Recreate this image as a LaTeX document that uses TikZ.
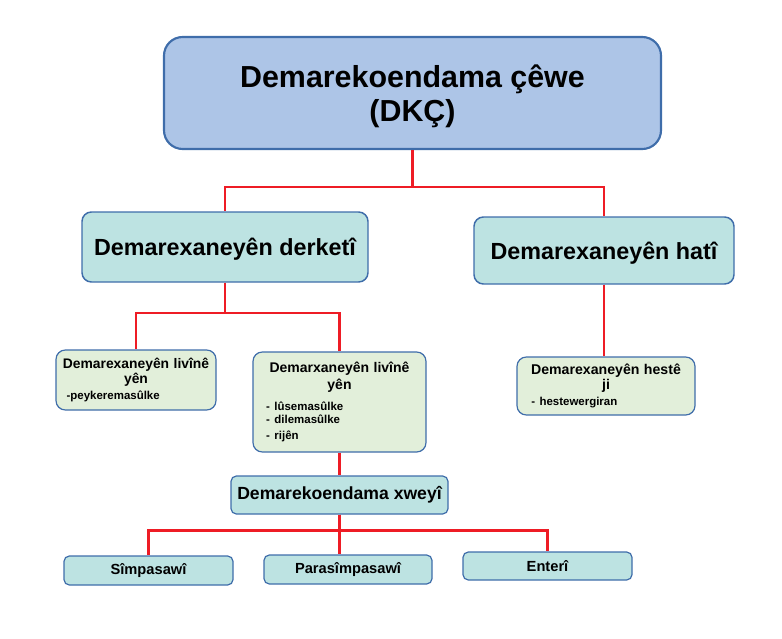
\documentclass[tikz,border=0pt]{standalone}
\usepackage{fontspec}
\setmainfont{Liberation Sans}
\usetikzlibrary{positioning}

\definecolor{topfill}{HTML}{ADC5E7}
\definecolor{edgeblue}{HTML}{3F6DAA}
\definecolor{tealfill}{HTML}{BDE3E2}
\definecolor{greenfill}{HTML}{E2EFDA}
\definecolor{linkred}{HTML}{EE1C25}

\begin{document}
\begin{tikzpicture}[
    x=0.75pt, y=-0.75pt,
    link/.style ={draw=linkred, line width=1.8pt},
    mainbox/.style = {rectangle, rounded corners=14pt, draw=edgeblue, line width=1.6pt, fill=topfill, inner sep=0pt, text depth=0pt, align=center, font=\bfseries\fontsize{22.8}{25}\selectfont},
    groupbox/.style = {rectangle, rounded corners=7pt, draw=edgeblue, line width=1.1pt, fill=tealfill, inner sep=0pt, text depth=0pt, align=center, font=\bfseries\fontsize{17.5}{20}\selectfont},
    leafbox/.style = {rectangle, rounded corners=7pt, draw=edgeblue, line width=0.9pt, fill=greenfill, inner sep=0pt},
    smallbox/.style = {rectangle, rounded corners=4pt, draw=edgeblue, line width=0.9pt, fill=tealfill, inner sep=0pt, align=center, font=\bfseries\fontsize{11}{13}\selectfont}
  ]
  \useasboundingbox (0,0) rectangle (782,639);

  \node (dkc) [mainbox, minimum width=372.75pt, minimum height=84pt] at (412.5,93) {Demarekoendama çêwe\\(DKÇ)};

  \node (derketi) [groupbox, minimum width=214.5pt, minimum height=52.5pt] at (225,247) {Demarexaneyên derketî};
  \node (hati) [groupbox, minimum width=195pt, minimum height=50.25pt] at (604,250.5) {Demarexaneyên hatî};

  \node (livine) [leafbox, minimum width=120pt, minimum height=45pt, text width=112pt] at (136,380) {%
    {\centering\bfseries\fontsize{10.4}{11.3}\selectfont Demarexaneyên livînê\\yên\par}
    \raggedright\bfseries\fontsize{8.6}{10}\selectfont\hspace*{4pt}-peykeremasûlke};
  \node (livinetwo) [leafbox, minimum width=129.75pt, minimum height=75pt, text width=118pt] at (339.5,402) {%
    {\centering\bfseries\fontsize{10.5}{12.7}\selectfont Demarxaneyên livînê\\yên\par}
    \vspace{6pt}
    \raggedright\bfseries\fontsize{8.6}{9.6}\selectfont\hspace*{4pt}- lûsemasûlke\\\hspace*{4pt}- dilemasûlke\\\hspace*{4pt}- rijên};
  \node (heste) [leafbox, minimum width=133.5pt, minimum height=43.5pt, text width=122pt] at (606,386) {%
    {\centering\bfseries\fontsize{10.6}{11.3}\selectfont Demarexaneyên hestê\\ji\par}
    \raggedright\bfseries\fontsize{8.6}{10}\selectfont\hspace*{5pt}- hestewergiran};

  \node (xweyi) [smallbox, minimum width=162.75pt, minimum height=28.5pt, font=\bfseries\fontsize{13.2}{15}\selectfont] at (339.5,495) {Demarekoendama xweyî};

  \node (simpa) [smallbox, minimum width=126.75pt, minimum height=21.75pt] at (148.5,570.5) {Sîmpasawî};
  \node (parasimpa) [smallbox, minimum width=126pt, minimum height=21.75pt] at (348,569.5) {Parasîmpasawî};
  \node (enteri) [smallbox, minimum width=126.75pt, minimum height=21pt] at (547.5,566) {Enterî};

  \begin{scope}[every path/.style=link]
    \path (dkc.south) -- ++(0,37) -| (derketi.north);
    \path (dkc.south) -- ++(0,37) -| (hati.north);
    \path (derketi.south) -- ++(0,30) -| (livine.north);
    \path (derketi.south) -- ++(0,30) -| (livinetwo.north);
    \path (hati.south) -- (hati.south |- heste.north);
    \path (livinetwo.south) -- (xweyi.north);
    \path (xweyi.south) -- ++(0,16) -| (simpa.north);
    \path (xweyi.south) -- ++(0,16) -| (enteri.north);
    \path (xweyi.south) -- (xweyi.south |- parasimpa.north);
  \end{scope}
\end{tikzpicture}
\end{document}
